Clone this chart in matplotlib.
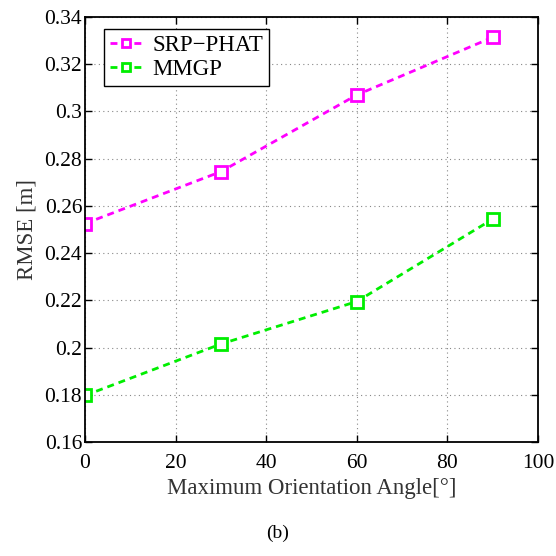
import matplotlib
matplotlib.use('Agg')
import matplotlib.pyplot as plt

# 数据
angles = [0, 30, 60, 90]
srp_phat = [0.2525, 0.2745, 0.3070, 0.3314]
mmgp = [0.1797, 0.2015, 0.2195, 0.2544]

xticks = [0, 20, 40, 60, 80, 100]
yticks = [0.16, 0.18, 0.2, 0.22, 0.24, 0.26, 0.28, 0.3, 0.32, 0.34]
ytick_labels = ['0.16', '0.18', '0.2', '0.22', '0.24', '0.26', '0.28', '0.3', '0.32', '0.34']

plt.rcParams['font.family'] = ['Liberation Serif', 'DejaVu Serif']

fig = plt.figure(figsize=(5.56, 5.56), dpi=100)
ax = fig.add_axes([85 / 556, 1 - 442 / 556, 453 / 556, 425 / 556])

style = dict(linestyle='--', linewidth=2, marker='s', markersize=8,
             markerfacecolor='white', markeredgewidth=2, dashes=(2.5, 1.8))
ax.plot(angles, srp_phat, color='#ff00ff', markeredgecolor='#ff00ff',
        label='SRP\u2212PHAT', **style)
ax.plot(angles, mmgp, color='#00ee00', markeredgecolor='#00ee00',
        label='MMGP', **style)

ax.set_xlim(0, 100)
ax.set_ylim(0.16, 0.34)
ax.set_xticks(xticks)
ax.set_yticks(yticks)
ax.set_yticklabels(ytick_labels)
ax.tick_params(direction='in', top=True, right=True, labelsize=15.5, length=5, width=1)
ax.tick_params(axis='x', pad=9)
ax.tick_params(axis='y', pad=2)
ax.grid(True, linestyle=(0, (1, 3)), color='#888888', linewidth=0.8)
for s in ax.spines.values():
    s.set_linewidth(1.3)

ax.set_xlabel('Maximum Orientation Angle[°]', fontsize=16.5, color='#333333', labelpad=3)
ax.set_ylabel('RMSE [m]', fontsize=16.5, color='#333333', labelpad=5)

leg = ax.legend(loc='upper left', bbox_to_anchor=(19 / 453, 1 - 12 / 425),
                fontsize=16.5, fancybox=False, framealpha=1,
                edgecolor='black', handlelength=1.45, borderpad=0.25, labelspacing=0.15,
                handletextpad=0.4, borderaxespad=0, markerscale=0.7)
leg.get_frame().set_linewidth(1.0)

fig.text(0.5, 1 - 533 / 556, '(b)', ha='center', va='center', fontsize=14)

fig.savefig('out.png', dpi=100)
